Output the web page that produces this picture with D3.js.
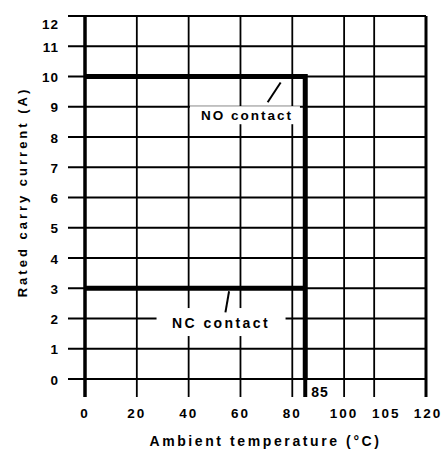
<!DOCTYPE html>
<html>
<head>
<meta charset="utf-8">
<script src="https://cdn.jsdelivr.net/npm/d3@7"></script>
<style>
  html, body { margin: 0; padding: 0; background: #fff; }
  svg { display: block; }
  text { font-family: "Liberation Sans", Arial, sans-serif; fill: #000; }
</style>
</head>
<body>
<svg id="chart" width="448" height="451"></svg>
<script>
// ---- data ----
const xTicks = [0, 20, 40, 60, 80, 100, 105, 120];
const yTicks = [0, 1, 2, 3, 4, 5, 6, 7, 8, 9, 10, 11, 12];
const xBreaks = [0, 100, 105, 120];          // non-uniform axis segments
const xBreakUnits = [0, 5, 5.58, 6.58];       // grid columns per segment
const noContact = [{ t: 0, a: 10 }, { t: 85, a: 10 }, { t: 85, a: 0 }];
const ncContact = [{ t: 0, a: 3 }, { t: 85, a: 3 }];
const markTemp = 85;
const xTitle = "Ambient temperature (°C)";
const yTitle = "Rated carry current (A)";
const noLabel = "NO contact";
const ncLabel = "NC contact";

// ---- layout ----
const svg = d3.select("#chart");
const m = { left: 85, right: 22, top: 16, bottom: 72 };
const W = 448 - m.left - m.right;
const H = 451 - m.top - m.bottom;
const tickOut = 17, tickDown = 18;

const x = d3.scaleLinear()
  .domain(xBreaks)
  .range(xBreakUnits.map(u => u / xBreakUnits[xBreakUnits.length - 1] * W));
const y = d3.scaleLinear().domain([0, 12]).range([H, 0]);

const g = svg.append("g").attr("transform", `translate(${m.left},${m.top})`);

// horizontal grid lines (extend left as ticks)
g.append("g").selectAll("line").data(yTicks).join("line")
  .attr("x1", -tickOut).attr("x2", W)
  .attr("y1", d => y(d)).attr("y2", d => y(d))
  .attr("stroke", "#000").attr("stroke-width", 1.8);

// vertical grid lines (extend down as ticks)
g.append("g").selectAll("line").data(xTicks).join("line")
  .attr("x1", d => x(d)).attr("x2", d => x(d))
  .attr("y1", 0).attr("y2", H + tickDown)
  .attr("stroke", "#000")
  .attr("stroke-width", d => d === 0 ? 3.5 : (d === 120 ? 3 : 1.8));

// label backgrounds
function labelBox(cx, cy, w, h) {
  g.append("rect").attr("x", cx - w / 2).attr("y", cy - h / 2)
    .attr("width", w).attr("height", h).attr("fill", "#fff");
}
const noPos = { t: 62.5, a: 8.72 };
const ncPos = { t: 52.5, a: 1.85 };
labelBox(x(noPos.t) - 2, y(noPos.a), 110, 18);
labelBox(x(ncPos.t), y(ncPos.a) - 1, 129, 28);

// series lines
const line = d3.line().x(d => x(d.t)).y(d => y(d.a));
g.append("path").datum(noContact).attr("d", line)
  .attr("fill", "none").attr("stroke", "#000").attr("stroke-width", 5);
g.append("path").datum(ncContact).attr("d", line)
  .attr("fill", "none").attr("stroke", "#000").attr("stroke-width", 5);
// 85 °C tick extension
g.append("line")
  .attr("x1", x(markTemp)).attr("x2", x(markTemp))
  .attr("y1", y(0)).attr("y2", H + tickDown)
  .attr("stroke", "#000").attr("stroke-width", 4);

// labels
g.append("text").attr("x", x(noPos.t)).attr("y", y(noPos.a))
  .attr("text-anchor", "middle").attr("dominant-baseline", "central")
  .attr("font-size", 13.5).attr("font-weight", "bold").attr("letter-spacing", 2)
  .text(noLabel);
g.append("text").attr("x", x(ncPos.t)).attr("y", y(ncPos.a))
  .attr("text-anchor", "middle").attr("dominant-baseline", "central")
  .attr("font-size", 14).attr("font-weight", "bold").attr("letter-spacing", 2.4)
  .text(ncLabel);

// leader lines
g.append("line")
  .attr("x1", x(70.5)).attr("y1", y(9.15)).attr("x2", x(75.5)).attr("y2", y(9.8))
  .attr("stroke", "#000").attr("stroke-width", 2);
g.append("line")
  .attr("x1", x(54.2)).attr("y1", y(2.2)).attr("x2", x(55.6)).attr("y2", y(2.9))
  .attr("stroke", "#000").attr("stroke-width", 2);

// 85 label
g.append("text").attr("x", x(markTemp) + 6).attr("y", y(0) + 13)
  .attr("text-anchor", "start").attr("dominant-baseline", "central")
  .attr("font-size", 14).attr("font-weight", "bold").attr("letter-spacing", 1)
  .text(markTemp);

// y tick labels
g.append("g").selectAll("text").data(yTicks).join("text")
  .attr("x", -26).attr("y", d => y(d) + (d === 12 ? 8 : 1))
  .attr("text-anchor", "end").attr("dominant-baseline", "central")
  .attr("font-size", 13.5).attr("font-weight", "bold").attr("letter-spacing", 1)
  .text(d => d);

// x tick labels
g.append("g").selectAll("text").data(xTicks).join("text")
  .attr("x", d => x(d) + (d === 105 ? 12 : (d === 120 ? 2 : 0)))
  .attr("y", H + 34)
  .attr("text-anchor", "middle").attr("dominant-baseline", "central")
  .attr("font-size", 13.5).attr("font-weight", "bold").attr("letter-spacing", 2)
  .text(d => d);

// axis titles
g.append("text").attr("x", W / 2 + 10).attr("y", H + 62)
  .attr("text-anchor", "middle").attr("dominant-baseline", "central")
  .attr("font-size", 14).attr("font-weight", "bold").attr("letter-spacing", 2.6)
  .text(xTitle);
g.append("text")
  .attr("transform", `translate(${22 - m.left},${192 - m.top}) rotate(-90)`)
  .attr("text-anchor", "middle").attr("dominant-baseline", "central")
  .attr("font-size", 13).attr("font-weight", "bold").attr("letter-spacing", 3)
  .text(yTitle);
</script>
</body>
</html>
